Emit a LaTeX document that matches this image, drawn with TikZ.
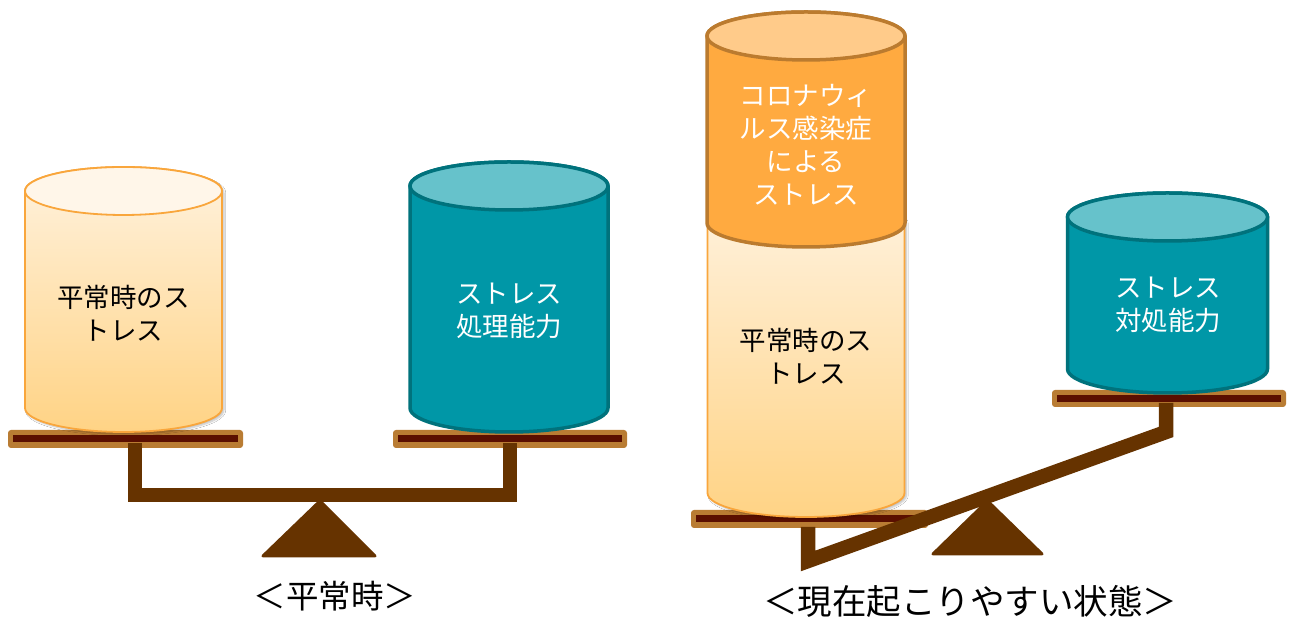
\documentclass[tikz,border=0pt]{standalone}
\usepackage{fontspec}
\newfontfamily\jp{Noto Sans CJK JP}
\usetikzlibrary{shadows.blur}

\definecolor{beam}{HTML}{663300}
\definecolor{plateout}{HTML}{B97C33}
\definecolor{platein}{HTML}{5A0F00}
\definecolor{tealbody}{HTML}{0097A7}
\definecolor{tealtop}{HTML}{66C2CB}
\definecolor{tealedge}{HTML}{00727C}
\definecolor{orgbody}{HTML}{FFAA40}
\definecolor{orgtop}{HTML}{FFCB8A}
\definecolor{orgedge}{HTML}{BB7B2F}
\definecolor{lighttop}{HTML}{FFF2DE}
\definecolor{lightbot}{HTML}{FFD385}
\definecolor{lightcap}{HTML}{FFF6E9}
\definecolor{lightedge}{HTML}{F9A63C}

\tikzset{
  lightbody/.style={draw=lightedge, line width=1.8pt, top color=lighttop, bottom color=lightbot,
    blur shadow={shadow xshift=2pt, shadow yshift=-2pt, shadow blur steps=6, shadow opacity=25}},
  lightcapst/.style={draw=lightedge, line width=1.8pt, fill=lightcap},
  tealbodyst/.style={draw=tealedge, line width=3.5pt, fill=tealbody},
  tealcapst/.style={draw=tealedge, line width=3.5pt, fill=tealtop},
  orgbodyst/.style={draw=orgedge, line width=3.5pt, fill=orgbody},
  orgcapst/.style={draw=orgedge, line width=3.5pt, fill=orgtop},
  plateouter/.style={fill=plateout, rounded corners=3pt},
  platestripe/.style={fill=platein},
  lever/.style={draw=beam, line width=14.5pt, line join=miter},
  fulcrum/.style={fill=beam, draw=beam, line width=3pt, line join=round},
  drumtext/.style={font=\jp\fontsize{26.5}{33}\selectfont, align=center},
  caption/.style={font=\jp\fontsize{32.5}{38}\selectfont},
}

% cylinder: centre x, top y, bottom y, x radius, y radius, body style, cap style
\newcommand\drum[7]{%
  \path[#6] ({#1-#4},{#2}) -- ({#1-#4},{#3})
    arc[start angle=180, end angle=360, x radius=#4pt, y radius=#5pt]
    -- ({#1+#4},{#2})
    arc[start angle=0, end angle=180, x radius=#4pt, y radius=#5pt] -- cycle;
  \path[#7] (#1,#2) ellipse[x radius=#4pt, y radius=#5pt];
}
% pan of the balance: left x, right x, lower y, upper y
\newcommand\pan[4]{%
  \path[plateouter] (#1,#3) rectangle (#2,#4);
  \path[platestripe] ({#1+5},{(#3+#4)/2-3.5}) rectangle ({#2-5},{(#3+#4)/2+3.5});
}

\begin{document}
\begin{tikzpicture}[x=1pt, y=1pt]
\useasboundingbox (0,0) rectangle (1296,620);
\fill[white] (0,0) rectangle (1296,620);

% ---------- balance in ordinary times ----------
\pan{8}{243}{172}{190}
\pan{393}{627}{172}{190}
\drum{123.5}{429}{212}{98.5}{24}{lightbody}{lightcapst}
\drum{509}{434}{212}{99}{24}{tealbodyst}{tealcapst}
\path[fulcrum] (320,119) -- (375,64) -- (263,64) -- cycle;
\draw[lever] (135,177) -- (135,125) -- (510,125) -- (510,177);

\node[drumtext] (usual) at (123.5,306.5) {平常時のス\\トレス};
\node[drumtext, text=white] (cope) at (509,309) {ストレス\\処理能力};
\node[caption] (cap1) at (335,24) {＜平常時＞};

% ---------- balance in the present situation ----------
\pan{691}{928}{92}{110}
\pan{1052}{1286}{213}{230}
\drum{806}{398}{127}{98.5}{24}{lightbody}{lightcapst}
\drum{806}{584}{397}{99}{24}{orgbodyst}{orgcapst}
\drum{1167.5}{403}{251}{100}{24}{tealbodyst}{tealcapst}
\path[fulcrum] (987.5,119) -- (1042,66) -- (933,66) -- cycle;
\draw[lever] (808,93) -- (808,59) -- (1166,188) -- (1166,217);

\node[drumtext, text=white] (covid) at (806,475) {コロナウィ\\ルス感染症\\による\\ストレス};
\node[drumtext] (usual2) at (806,264) {平常時のス\\トレス};
\node[drumtext, text=white] (cope2) at (1168,315) {ストレス\\対処能力};
\node[caption, font=\jp\fontsize{34.5}{40}\selectfont] (cap2) at (970,19) {＜現在起こりやすい状態＞};
\end{tikzpicture}
\end{document}
